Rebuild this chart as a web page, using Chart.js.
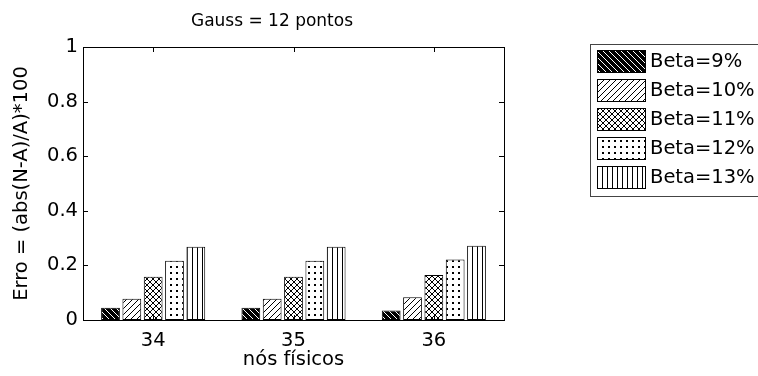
<!DOCTYPE html>
<html>
<head>
<meta charset="utf-8">
<script src="https://cdn.jsdelivr.net/npm/chart.js@4.4.1/dist/chart.umd.min.js"></script>
<style>
  body { margin: 0; background: #fff; }
</style>
</head>
<body>
<canvas id="erroChart" width="758" height="376"></canvas>
<script>
const categories = ["34", "35", "36"];
const seriesLabels = ["Beta=9%", "Beta=10%", "Beta=11%", "Beta=12%", "Beta=13%"];
const beta9 = [0.045, 0.045, 0.035];
const beta10 = [0.078, 0.078, 0.083];
const beta11 = [0.158, 0.158, 0.165];
const beta12 = [0.217, 0.217, 0.222];
const beta13 = [0.268, 0.268, 0.272];
const yTicks = [0, 0.2, 0.4, 0.6, 0.8, 1];
const chartTitle = "Gauss = 12 pontos";

const FONT = "'DejaVu Sans', 'Liberation Sans', sans-serif";
const FS = 19.5;

// little tile patterns, like the old matlab hatch fills
function makePattern(size, draw) {
  let c = document.createElement("canvas");
  c.width = size;
  c.height = size;
  let g = c.getContext("2d");
  draw(g, size);
  return document.createElement("canvas").getContext("2d").createPattern(c, "repeat");
}

let patBack = makePattern(6, (g, s) => {
  g.fillStyle = "#000";
  g.fillRect(0, 0, s, s);
  g.strokeStyle = "#fff";
  g.lineWidth = 1;
  g.beginPath();
  g.moveTo(-1, -1); g.lineTo(s + 1, s + 1);
  g.moveTo(-1, s - 1); g.lineTo(1, s + 1);
  g.moveTo(s - 1, -1); g.lineTo(s + 1, 1);
  g.stroke();
});
let patFwd = makePattern(6, (g, s) => {
  g.fillStyle = "#fff";
  g.fillRect(0, 0, s, s);
  g.strokeStyle = "#000";
  g.lineWidth = 1;
  g.beginPath();
  g.moveTo(-1, s + 1); g.lineTo(s + 1, -1);
  g.moveTo(-1, 1); g.lineTo(1, -1);
  g.moveTo(s - 1, s + 1); g.lineTo(s + 1, s - 1);
  g.stroke();
});
let patCross = makePattern(6, (g, s) => {
  g.fillStyle = "#fff";
  g.fillRect(0, 0, s, s);
  g.strokeStyle = "#000";
  g.lineWidth = 1;
  g.beginPath();
  g.moveTo(-1, -1); g.lineTo(s + 1, s + 1);
  g.moveTo(-1, s + 1); g.lineTo(s + 1, -1);
  g.stroke();
});
let patDots = makePattern(6, (g, s) => {
  g.fillStyle = "#fff";
  g.fillRect(0, 0, s, s);
  g.fillStyle = "#000";
  g.fillRect(2, 2, 2, 2);
});
let patVert = makePattern(5, (g, s) => {
  g.fillStyle = "#fff";
  g.fillRect(0, 0, s, s);
  g.fillStyle = "#000";
  g.fillRect(2, 0, 1, s);
});

let patterns = [patBack, patFwd, patCross, patDots, patVert];
let values = [beta9, beta10, beta11, beta12, beta13];

// box, inward ticks, title and the legend, drawn by hand
const matlabBox = {
  id: "matlabBox",
  afterDraw(chart) {
    let ctx = chart.ctx;
    let a = chart.chartArea;
    let xs = chart.scales.x;
    let ys = chart.scales.y;
    ctx.save();
    ctx.strokeStyle = "#000";
    ctx.lineWidth = 1;
    ctx.strokeRect(Math.round(a.left) + 0.5, Math.round(a.top) + 0.5,
      Math.round(a.right - a.left), Math.round(a.bottom - a.top));
    ctx.beginPath();
    yTicks.forEach(v => {
      let y = Math.round(ys.getPixelForValue(v)) + 0.5;
      ctx.moveTo(a.left, y); ctx.lineTo(a.left + 5, y);
      ctx.moveTo(a.right, y); ctx.lineTo(a.right - 5, y);
    });
    categories.forEach((c, i) => {
      let x = Math.round(xs.getPixelForValue(i)) + 0.5;
      ctx.moveTo(x, a.bottom); ctx.lineTo(x, a.bottom - 5);
      ctx.moveTo(x, a.top); ctx.lineTo(x, a.top + 5);
    });
    ctx.stroke();

    // title
    ctx.fillStyle = "#000";
    ctx.font = "17px " + FONT;
    ctx.textAlign = "center";
    ctx.textBaseline = "middle";
    ctx.fillText(chartTitle, 272, 22);

    // legend
    ctx.textAlign = "left";
    ctx.strokeStyle = "#444";
    ctx.strokeRect(590.5, 44.5, 180, 152);
    ctx.font = FS + "px " + FONT;
    chart.data.datasets.forEach((ds, i) => {
      let cy = 61 + i * 29;
      ctx.fillStyle = ds.backgroundColor;
      ctx.fillRect(597, cy - 11, 49, 22);
      ctx.strokeStyle = "#000";
      ctx.strokeRect(597.5, cy - 10.5, 48, 22);
      ctx.fillStyle = "#000";
      ctx.fillText(ds.label, 650, cy + 1);
    });
    ctx.restore();
  }
};

let ctx = document.getElementById("erroChart").getContext("2d");

let erroChart = new Chart(ctx, {
  type: "bar",
  data: {
    labels: categories,
    datasets: seriesLabels.map((lab, i) => ({
      label: lab,
      data: values[i],
      backgroundColor: patterns[i],
      borderColor: "#000",
      borderWidth: 1,
      borderSkipped: false,
      categoryPercentage: 0.76,
      barPercentage: 0.88
    }))
  },
  options: {
    responsive: false,
    animation: false,
    layout: { padding: { left: 0, right: 254, top: 47, bottom: 0 } },
    plugins: {
      legend: { display: false },
      tooltip: { enabled: false },
      title: { display: false }
    },
    scales: {
      x: {
        grid: { display: false, drawTicks: false },
        border: { display: false },
        ticks: { color: "#000", font: { family: FONT, size: FS }, padding: 9 },
        title: {
          display: true,
          text: "nós físicos",
          color: "#000",
          font: { family: FONT, size: FS },
          padding: { top: 0, bottom: 4 }
        },
        afterFit: s => { s.height = 56; }
      },
      y: {
        min: 0,
        max: 1,
        afterBuildTicks: s => { s.ticks = yTicks.map(v => ({ value: v })); },
        grid: { display: false, drawTicks: false },
        border: { display: false },
        ticks: {
          color: "#000",
          font: { family: FONT, size: FS },
          padding: 5,
          callback: v => String(v)
        },
        title: {
          display: true,
          text: "Erro = (abs(N-A)/A)*100",
          color: "#000",
          font: { family: FONT, size: FS },
          padding: { top: 10 }
        },
        afterFit: s => { s.width = 83; }
      }
    }
  },
  plugins: [matlabBox]
});
</script>
</body>
</html>
